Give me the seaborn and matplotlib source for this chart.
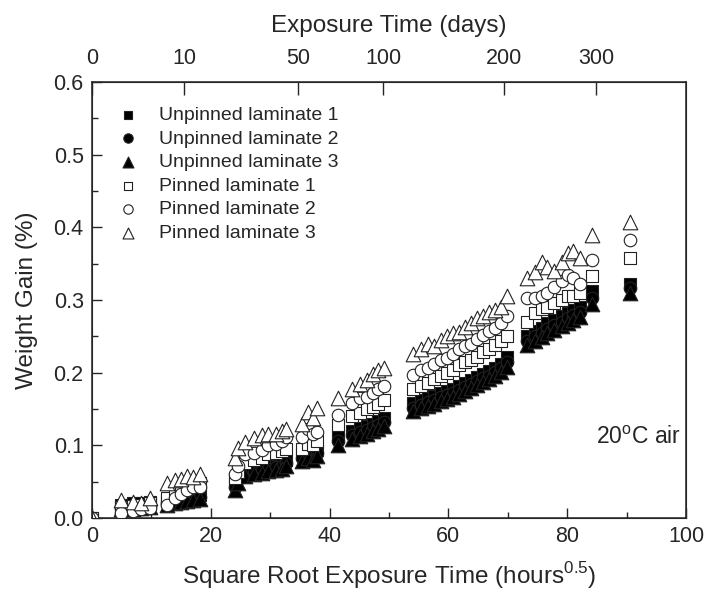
import numpy as np
import pandas as pd
import matplotlib
matplotlib.use("Agg")
import matplotlib.pyplot as plt
import seaborn as sns
from matplotlib.ticker import MultipleLocator

# sqrt(hours) sampling times, shared by all laminates
sqrt_time = [0.0, 4.9, 6.9, 8.3, 9.8,
             12.7, 14.0, 14.9, 16.0, 17.0, 18.2,
             24.0, 24.6, 25.8, 27.2, 28.6, 29.7, 31.0, 32.0, 32.7,
             35.4, 36.4, 37.2, 37.9,
             41.4, 43.8, 45.1, 46.3, 47.3, 48.1, 49.2,
             54.0, 55.3, 56.5, 57.6, 58.7, 59.8, 60.8, 61.8, 62.8, 63.8,
             64.8, 65.8, 66.8, 67.8, 68.8, 69.9,
             73.2, 74.6, 75.8, 76.6, 77.8, 79.1, 80.1, 81.0, 82.2, 84.2,
             90.6]

unpinned_1 = [0.0, 0.018, 0.020, 0.020, 0.022,
              0.024, 0.026, 0.027, 0.030, 0.031, 0.032,
              0.048, 0.058, 0.066, 0.068, 0.070, 0.072, 0.074, 0.076, 0.080,
              0.088, 0.092, 0.090, 0.094,
              0.112, 0.120, 0.124, 0.126, 0.130, 0.133, 0.137,
              0.158, 0.162, 0.165, 0.168, 0.172, 0.175, 0.178, 0.182, 0.186, 0.190,
              0.194, 0.198, 0.202, 0.207, 0.212, 0.222,
              0.250, 0.258, 0.262, 0.268, 0.272, 0.278, 0.282, 0.286, 0.290, 0.312,
              0.322]
unpinned_2 = [0.0, 0.014, 0.016, 0.017, 0.018,
              0.020, 0.022, 0.024, 0.027, 0.028, 0.029,
              0.043, 0.053, 0.062, 0.064, 0.066, 0.068, 0.070, 0.072, 0.076,
              0.083, 0.087, 0.085, 0.089,
              0.106, 0.114, 0.118, 0.121, 0.125, 0.128, 0.132,
              0.152, 0.156, 0.159, 0.162, 0.166, 0.169, 0.172, 0.176, 0.180, 0.184,
              0.188, 0.192, 0.196, 0.201, 0.206, 0.215,
              0.243, 0.250, 0.255, 0.260, 0.265, 0.270, 0.275, 0.279, 0.283, 0.303,
              0.316]
unpinned_3 = [0.0, 0.012, 0.013, 0.014, 0.015,
              0.018, 0.020, 0.022, 0.024, 0.025, 0.026,
              0.038, 0.048, 0.058, 0.060, 0.062, 0.064, 0.066, 0.068, 0.072,
              0.078, 0.083, 0.080, 0.085,
              0.101, 0.109, 0.113, 0.116, 0.120, 0.123, 0.127,
              0.147, 0.151, 0.154, 0.157, 0.161, 0.164, 0.167, 0.171, 0.175, 0.179,
              0.183, 0.187, 0.191, 0.196, 0.201, 0.208,
              0.238, 0.244, 0.249, 0.254, 0.259, 0.264, 0.269, 0.273, 0.277, 0.295,
              0.310]
pinned_1 = [0.0, 0.015, 0.017, 0.018, 0.020,
            0.028, 0.035, 0.038, 0.042, 0.045, 0.048,
            0.055, 0.063, 0.075, 0.080, 0.082, 0.088, 0.090, 0.092, 0.095,
            0.095, 0.102, 0.100, 0.106,
            0.128, 0.140, 0.145, 0.150, 0.153, 0.157, 0.162,
            0.177, 0.182, 0.186, 0.191, 0.196, 0.200, 0.204, 0.210, 0.214, 0.218,
            0.222, 0.228, 0.232, 0.238, 0.244, 0.250,
            0.270, 0.282, 0.288, 0.290, 0.296, 0.300, 0.306, 0.306, 0.310, 0.333,
            0.358]
pinned_2 = [0.0, 0.007, 0.010, 0.012, 0.014,
            0.018, 0.028, 0.033, 0.038, 0.042, 0.043,
            0.060, 0.072, 0.088, 0.090, 0.094, 0.100, 0.102, 0.106, 0.112,
            0.112, 0.122, 0.116, 0.118,
            0.142, 0.158, 0.165, 0.166, 0.172, 0.178, 0.182,
            0.197, 0.203, 0.206, 0.212, 0.217, 0.220, 0.225, 0.232, 0.236, 0.240,
            0.247, 0.252, 0.258, 0.262, 0.268, 0.278,
            0.303, 0.303, 0.305, 0.310, 0.318, 0.326, 0.334, 0.330, 0.322, 0.355,
            0.383]
pinned_3 = [0.0, 0.025, 0.022, 0.020, 0.028,
            0.048, 0.052, 0.054, 0.058, 0.056, 0.060,
            0.082, 0.096, 0.104, 0.110, 0.114, 0.116, 0.116, 0.120, 0.122,
            0.130, 0.146, 0.138, 0.152,
            0.165, 0.178, 0.185, 0.190, 0.198, 0.203, 0.206,
            0.226, 0.233, 0.240, 0.236, 0.245, 0.250, 0.255, 0.256, 0.263, 0.268,
            0.275, 0.278, 0.283, 0.286, 0.290, 0.305,
            0.330, 0.338, 0.352, 0.345, 0.340, 0.352, 0.365, 0.368, 0.358, 0.390,
            0.407]

# top axis ticks in days (bottom axis is sqrt of hours)
exposure_days = [0, 10, 50, 100, 200, 300]

sns.set_style("ticks")
plt.rcParams['font.family'] = ['Liberation Sans', 'DejaVu Sans']
plt.rcParams['mathtext.fontset'] = 'custom'
plt.rcParams['mathtext.rm'] = 'Liberation Sans'

fig = plt.figure(figsize=(7.09, 6.01), dpi=100)
ax = fig.add_axes([0.1298, 0.1381, 0.8378, 0.7255])

series = [
    ("Unpinned laminate 1", unpinned_1, "s", "black", 8),
    ("Unpinned laminate 2", unpinned_2, "o", "black", 9),
    ("Unpinned laminate 3", unpinned_3, "^", "black", 10.5),
    ("Pinned laminate 1", pinned_1, "s", "white", 8),
    ("Pinned laminate 2", pinned_2, "o", "white", 9),
    ("Pinned laminate 3", pinned_3, "^", "white", 10.5),
]
for label, vals, mk, fc, ms in series:
    df = pd.DataFrame({"x": sqrt_time, "y": vals})
    sns.scatterplot(data=df, x="x", y="y", ax=ax, marker=mk, s=ms ** 2,
                    facecolor=fc, edgecolor="#222222", linewidth=0.8,
                    label=label, zorder=3)

ax.set_xlim(0, 100)
ax.set_ylim(0, 0.6)
ax.xaxis.set_major_locator(MultipleLocator(20))
ax.xaxis.set_minor_locator(MultipleLocator(10))
ax.yaxis.set_major_locator(MultipleLocator(0.1))
ax.yaxis.set_minor_locator(MultipleLocator(0.05))
ax.yaxis.set_major_formatter(plt.FuncFormatter(lambda v, p: f"{v:.1f}"))
ax.tick_params(axis="both", which="major", direction="in", length=7, width=1,
               labelsize=15.5, top=False, right=False, pad=6)
ax.tick_params(axis="both", which="minor", direction="in", length=4, width=1,
               top=False, right=False)
for sp in ax.spines.values():
    sp.set_linewidth(1.1)
    sp.set_color("#222222")

ax.set_xlabel(r"Square Root Exposure Time (hours$^{0.5}$)", fontsize=17.5, labelpad=9)
ax.set_ylabel("Weight Gain (%)", fontsize=17.5, labelpad=11)

ax2 = ax.twiny()
ax2.set_xlim(ax.get_xlim())
ax2.set_xticks([np.sqrt(24 * d) for d in exposure_days])
ax2.set_xticklabels([str(d) for d in exposure_days])
ax2.tick_params(axis="x", direction="in", length=9, width=1, labelsize=15.5, pad=9)
ax2.set_xlabel("Exposure Time (days)", fontsize=17.5, labelpad=12)

leg = ax.legend(loc="upper left", frameon=False, fontsize=14, handletextpad=0.6,
                labelspacing=0.31, borderaxespad=0.0, markerscale=0.75,
                bbox_to_anchor=(0.015, 0.962))

ax.text(99.2, 0.111, r"20$^{\rm o}$C air", fontsize=16.5, ha="right", va="center")

fig.savefig("out.png", dpi=100)
